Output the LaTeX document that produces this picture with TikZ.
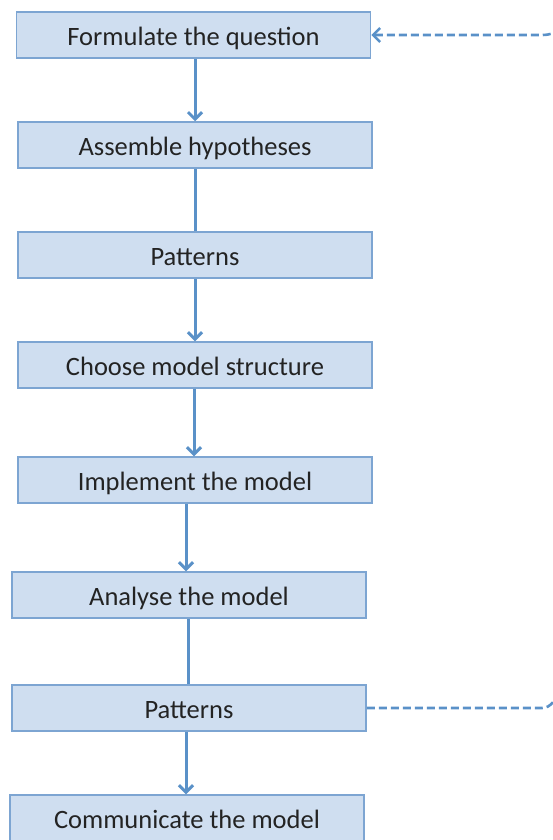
\documentclass[tikz,border=0pt]{standalone}
\usepackage{fontspec}
\setmainfont{Carlito}
\usetikzlibrary{arrows.meta}
\begin{document}
\begin{tikzpicture}[x=1pt,y=-1pt,font=\fontsize{26.5}{30}\selectfont]

\definecolor{def_node_fill}{RGB}{207,222,240}
\definecolor{def_node_text}{RGB}{35,35,35}
\definecolor{def_node_draw}{RGB}{125,165,210}
\tikzstyle{default_node_style}=[draw=def_node_draw,fill=def_node_fill,text=def_node_text,line width = 1.5pt,minimum width=354pt,minimum height=46pt,inner sep=0pt,text height=21pt,text depth=0pt]

\definecolor{def_edge_draw}{RGB}{90,145,200}
\tikzstyle{default_edge_style}=[draw=def_edge_draw,line width = 3pt,>={Straight Barb[length=7pt,width=14pt]}]
\tikzstyle{loop_edge_style}=[default_edge_style,line width = 2.6pt,dash pattern=on 8pt off 4pt]

\useasboundingbox (0,0) rectangle (552,840);

\node(formulate) at (193.5,35) [rectangle,default_node_style] {Formulate the question};

\node(assemble) at (195,145) [rectangle,default_node_style] {Assemble hypotheses};

\node(patternsA) at (195,255) [rectangle,default_node_style] {Patterns};

\node(choose) at (195,365) [rectangle,default_node_style] {Choose model structure};

\node(implement) at (195,480) [rectangle,default_node_style] {Implement the model};

\node(analyse) at (189,595) [rectangle,default_node_style] {Analyse the model};

\node(patternsB) at (189,708) [rectangle,default_node_style] {Patterns};

\node(communicate) at (187,818) [rectangle,default_node_style] {Communicate the model};

\coordinate(loopin) at (562,30);
\coordinate(loopout) at (562,694);

\draw[->,default_edge_style](formulate.south -| 195,0) -- (assemble.north -| 195,0);
\draw[default_edge_style](assemble.south -| 195,0) -- (patternsA.north -| 195,0);
\draw[->,default_edge_style](patternsA.south -| 195,0) -- (choose.north -| 195,0);
\draw[->,default_edge_style](choose.south -| 194,0) -- (implement.north -| 194,0);
\draw[->,default_edge_style](implement.south -| 186,0) -- (analyse.north -| 186,0);
\draw[default_edge_style](analyse.south -| 188,0) -- (patternsB.north -| 188,0);
\draw[->,default_edge_style](patternsB.south -| 186,0) -- (communicate.north -| 186,0);

\draw[->,loop_edge_style](loopin) to[out=200,in=0] ([xshift=-20pt]loopin |- formulate.east) -- (formulate.east);
\draw[loop_edge_style](patternsB.east) -- ([xshift=-20pt]loopout |- patternsB.east) to[out=0,in=210] (loopout);

\end{tikzpicture}
\end{document}
